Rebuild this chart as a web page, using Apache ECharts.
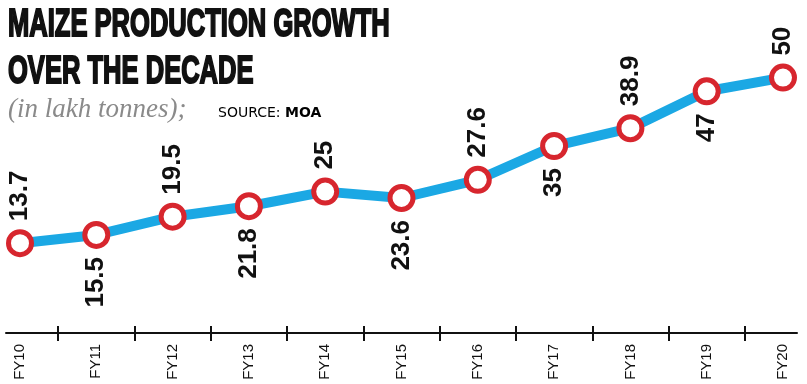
<!DOCTYPE html>
<html><head><meta charset="utf-8">
<script src="https://cdn.jsdelivr.net/npm/echarts@6/dist/echarts.min.js"></script>
<style>html,body{margin:0;padding:0;background:#fff}#c{width:807px;height:384px}</style>
</head><body><div id="c"></div>
<script>
const categories = ['FY10','FY11','FY12','FY13','FY14','FY15','FY16','FY17','FY18','FY19','FY20'];
const production = [13.7, 15.5, 19.5, 21.8, 25, 23.6, 27.6, 35, 38.9, 47, 50];
const titleLines = ['MAIZE PRODUCTION GROWTH', 'OVER THE DECADE'];
const unitText = '(in lakh tonnes);';
const sourceLabel = 'SOURCE: ';
const sourceName = 'MOA';

const SANS = 'Liberation Sans, Arial, sans-serif';
const chart = echarts.init(document.getElementById('c'), null, {renderer: 'canvas'});

// tick marks sit between neighbouring categories (index + 0.5)
const tickSlots = categories.slice(1).map((c, i) => i + 0.5);

const labelBase = {show: true, rotate: 90, verticalAlign: 'middle', distance: 8,
  fontFamily: SANS, fontWeight: 'bold', fontSize: 26, color: '#111'};
const topLabel = Object.assign({}, labelBase, {position: 'top', align: 'left'});
const bottomLabel = Object.assign({}, labelBase, {position: 'bottom', align: 'right'});

const tickAxis = (inside, len) => ({
  type: 'value', gridIndex: 0, position: 'bottom', min: 0, max: categories.length - 1,
  axisLine: {show: false, onZero: false},
  axisTick: {show: true, inside: inside, length: len, customValues: tickSlots, lineStyle: {color: '#111', width: 2}},
  axisLabel: {show: false}, splitLine: {show: false}
});

const option = {
  animation: false,
  backgroundColor: '#fff',
  graphic: [
    {type: 'text', x: 8, y: 25, scaleX: 0.655, style: {text: titleLines[0], font: 'bold 39px ' + SANS, fill: '#111', stroke: '#111', lineWidth: 2, verticalAlign: 'middle'}},
    {type: 'text', x: 8, y: 72, scaleX: 0.655, style: {text: titleLines[1], font: 'bold 39px ' + SANS, fill: '#111', stroke: '#111', lineWidth: 2, verticalAlign: 'middle'}},
    {type: 'text', x: 8, y: 110, style: {text: unitText, font: 'italic 27px "Liberation Serif", serif', fill: '#8a8a8a', verticalAlign: 'middle'}},
    {type: 'text', x: 218, y: 113, style: {text: '{a|' + sourceLabel + '}{b|' + sourceName + '}', verticalAlign: 'middle',
      rich: {a: {fontFamily: 'DejaVu Sans, sans-serif', fontSize: 14, color: '#111'},
             b: {fontFamily: 'DejaVu Sans, sans-serif', fontSize: 14, fontWeight: 'bold', color: '#111'}}}}
  ],
  grid: [
    {left: 20, right: 24, top: 32, bottom: 51},
    {left: 6, right: 10, top: 32, bottom: 51}
  ],
  xAxis: [
    {type: 'category', gridIndex: 0, position: 'bottom', data: categories, boundaryGap: false,
     axisLine: {show: false, onZero: false},
     axisTick: {show: false},
     axisLabel: {show: true, interval: 0, rotate: 90, margin: 11, fontFamily: SANS, fontSize: 15, color: '#111'},
     splitLine: {show: false}},
    tickAxis(false, 8),
    tickAxis(true, 7),
    {type: 'value', gridIndex: 1, position: 'bottom', min: 0, max: 1,
     axisLine: {show: true, onZero: false, lineStyle: {color: '#111', width: 2}},
     axisTick: {show: false}, axisLabel: {show: false}, splitLine: {show: false}}
  ],
  yAxis: [
    {type: 'value', gridIndex: 0, min: -6, max: 60, show: false, splitLine: {show: false}},
    {type: 'value', gridIndex: 1, min: 0, max: 1, show: false, splitLine: {show: false}}
  ],
  series: [{
    type: 'line', xAxisIndex: 0, yAxisIndex: 0,
    data: production.map((v, i) => ({value: v, label: i % 2 === 0 ? topLabel : bottomLabel})),
    symbol: 'circle', symbolSize: 23,
    itemStyle: {color: '#fff', borderColor: '#d7262e', borderWidth: 5},
    lineStyle: {color: '#1ba8e4', width: 10},
    emphasis: {disabled: true}
  }]
};
chart.setOption(option);
</script></body></html>
